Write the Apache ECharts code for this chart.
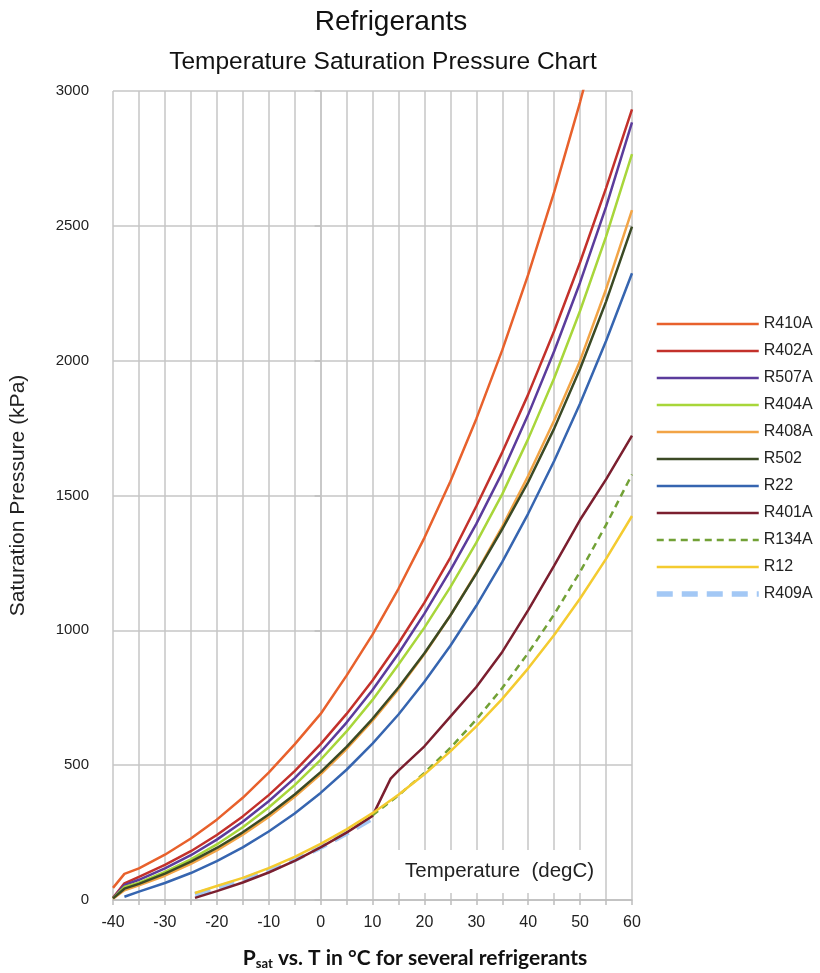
<!DOCTYPE html>
<html>
<head>
<meta charset="utf-8">
<script src="https://cdn.jsdelivr.net/npm/echarts@6/dist/echarts.min.js"></script>
<style>
html,body{margin:0;padding:0;background:#fff;}
#chart{width:820px;height:973px;}
</style>
</head>
<body>
<div id="chart"></div>
<script>
// Temperatures (degC) at which values are tabulated
var temps = [-40, -37.8, -35, -30, -25, -24.2, -20, -15, -10, -5, 0, 5, 10, 13.5, 15, 20, 25, 30, 35, 40, 45, 50, 55, 60];

// Saturation pressures (kPa), null = no value
var R410A = [45, 97, 117, 168, 228, null, 298, 379, 472, 577, 690, 832, 984, null, 1154, 1343, 1552, 1784, 2039, 2319, 2625, 2959, 3325, null];
var R402A = [8, 62, 86, 130, 181, null, 241, 310, 389, 478, 578, 690, 814, null, 952, 1103, 1270, 1460, 1660, 1875, 2110, 2365, 2640, 2932];
var R507A = [7, 55, 75, 117, 166, null, 224, 290, 366, 452, 549, 658, 779, null, 914, 1062, 1222, 1395, 1585, 1800, 2035, 2290, 2570, 2884];
var R404A = [6, 48, 64, 104, 151, null, 206, 270, 343, 426, 520, 625, 742, null, 873, 1010, 1160, 1325, 1505, 1710, 1935, 2185, 2460, 2766];
var R408A = [5, 36, 54, 90, 134, null, 184, 242, 308, 383, 466, 560, 665, null, 782, 912, 1055, 1213, 1385, 1573, 1778, 2000, 2265, 2558];
var R502  = [6, 42, 60, 98, 142, null, 193, 251, 317, 391, 474, 568, 672, null, 788, 915, 1055, 1210, 1375, 1550, 1748, 1970, 2219, 2497];
var R22   = [null, 12, 31, 63, 100, null, 144, 195, 254, 321, 397, 483, 580, null, 688, 809, 943, 1091, 1254, 1433, 1628, 1841, 2073, 2324];
var R401A = [null, null, null, null, null, 8, 33, 65, 102, 145, 195, 250, 312, 450, 480, 570, 680, 790, 920, 1075, 1240, 1410, 1560, 1722];
var R134A = [null, null, null, null, null, null, null, null, null, null, null, null, 314, null, 388, 471, 564, 669, 786, 916, 1059, 1217, 1391, 1578];
var R12   = [null, null, null, null, null, 26, 52, 82, 118, 160, 208, 262, 322, null, 390, 466, 551, 644, 746, 859, 983, 1118, 1265, 1424];
var R409A = [null, null, null, null, null, 20, 44, 74, 110, 150, 196, 248, 304, null, null, null, null, null, null, null, null, null, null, null];

var xTicks = [-40, -30, -20, -10, 0, 10, 20, 30, 40, 50, 60];
var yTicks = [0, 500, 1000, 1500, 2000, 2500, 3000];

var seriesDefs = [
  {name: 'R410A', values: R410A, color: '#e8612c', width: 2.5},
  {name: 'R402A', values: R402A, color: '#c3312b', width: 2.5},
  {name: 'R507A', values: R507A, color: '#5b3c9c', width: 2.5},
  {name: 'R404A', values: R404A, color: '#a8d63a', width: 2.5},
  {name: 'R408A', values: R408A, color: '#f2a446', width: 2.5},
  {name: 'R502',  values: R502,  color: '#3b4a25', width: 2.5},
  {name: 'R22',   values: R22,   color: '#3665b0', width: 2.5},
  {name: 'R401A', values: R401A, color: '#7b1f2f', width: 2.5},
  {name: 'R134A', values: R134A, color: '#72a136', width: 2.5, type: [7, 5]},
  {name: 'R12',   values: R12,   color: '#f4cb30', width: 2.5},
  {name: 'R409A', values: R409A, color: '#a3c8f5', width: 5.5, type: [16, 9], z: 1}
];

function pairs(vals) {
  var out = [];
  for (var i = 0; i < temps.length; i++) {
    if (vals[i] !== null) out.push([temps[i], vals[i]]);
  }
  return out;
}

var series = seriesDefs.map(function (d) {
  return {
    name: d.name,
    type: 'line',
    data: pairs(d.values),
    symbol: 'none',
    showSymbol: false,
    smooth: false,
    clip: true,
    z: d.z || 2,
    lineStyle: {color: d.color, width: d.width, type: d.type || 'solid'},
    itemStyle: {color: d.color}
  };
});

var chart = echarts.init(document.getElementById('chart'), null, {renderer: 'canvas'});
chart.setOption({
  backgroundColor: '#ffffff',
  animation: false,
  title: [
    {text: 'Refrigerants', left: 386, top: 3, textAlign: 'center',
     textStyle: {fontFamily: 'Liberation Sans', fontSize: 28, fontWeight: 'normal', color: '#111'}},
    {text: 'Temperature Saturation Pressure Chart', left: 378, top: 45, textAlign: 'center',
     textStyle: {fontFamily: 'Liberation Sans', fontSize: 24.5, fontWeight: 'normal', color: '#111'}},
    {text: '{p|P}{s|sat}{p| vs. T in °C for several refrigerants}', left: 410, top: 942, textAlign: 'center',
     textStyle: {rich: {
       p: {fontFamily: 'Lato', fontSize: 21, fontWeight: 'bold', color: '#111'},
       s: {fontFamily: 'Lato', fontSize: 13, fontWeight: 'bold', color: '#111', verticalAlign: 'bottom', padding: [10, 0, 0, 0]}
     }}}
  ],
  legend: {
    orient: 'vertical',
    left: 649,
    top: 311,
    itemWidth: 102,
    itemHeight: 16,
    itemGap: 11,
    itemStyle: {opacity: 0, borderWidth: 0},
    lineStyle: {width: 'inherit'},
    textStyle: {fontFamily: 'Liberation Sans', fontSize: 16, color: '#222'},
    data: seriesDefs.map(function (d) { return d.name; })
  },
  grid: {left: 112, right: 188, top: 91, bottom: 73, containLabel: false},
  xAxis: {
    type: 'value', min: -40, max: 60, interval: 5,
    axisLine: {show: true, lineStyle: {color: '#bdbdbd', width: 1.5}},
    axisTick: {show: true, length: 5, lineStyle: {color: '#bdbdbd', width: 1.5}},
    axisLabel: {
      fontFamily: 'Liberation Sans', fontSize: 16, color: '#222', margin: 15,
      formatter: function (v) { return xTicks.indexOf(v) >= 0 ? String(v) : ''; }
    },
    splitLine: {show: true, lineStyle: {color: '#c6c6c6', width: 1.5}}
  },
  yAxis: {
    type: 'value', min: 0, max: 3000, interval: 500,
    name: 'Saturation Pressure (kPa)', nameLocation: 'middle', nameGap: 84, nameRotate: 90,
    nameTextStyle: {fontFamily: 'Liberation Sans', fontSize: 21, color: '#222'},
    axisLine: {show: true, lineStyle: {color: '#c6c6c6', width: 1.5}},
    axisTick: {show: true, length: 6, lineStyle: {color: '#bdbdbd', width: 1.5}},
    axisLabel: {fontFamily: 'Liberation Sans', fontSize: 15, color: '#222', margin: 24,
      formatter: function (v) { return yTicks.indexOf(v) >= 0 ? String(v) : ''; }},
    splitLine: {show: true, lineStyle: {color: '#c6c6c6', width: 1.5}}
  },
  graphic: [{
    type: 'text', left: 397, top: 850, z: 10,
    style: {text: 'Temperature  (degC)', fontFamily: 'Liberation Sans', fontSize: 20.5, fill: '#222',
      backgroundColor: '#ffffff', padding: [11, 7, 11, 8]}
  }],
  series: series
});
</script>
</body>
</html>
